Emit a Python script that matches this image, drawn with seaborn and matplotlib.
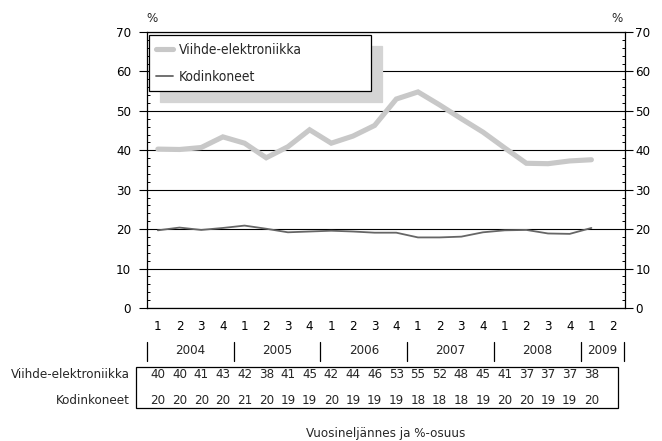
import matplotlib
matplotlib.use("Agg")
import matplotlib.pyplot as plt
import matplotlib.transforms as mtransforms
from matplotlib import font_manager
from matplotlib.patches import Rectangle
from matplotlib.lines import Line2D
from matplotlib.ticker import MultipleLocator, FixedLocator
import numpy as np
import pandas as pd
import seaborn as sns

# ---------------- data ----------------
quarters = ["1", "2", "3", "4"] * 5 + ["1", "2"]
years = ["2004", "2005", "2006", "2007", "2008", "2009"]
year_quarters = [4, 4, 4, 4, 4, 2]
viihde = [40.3, 40.2, 40.7, 43.4, 41.8, 38.1, 40.9, 45.2, 41.8, 43.6, 46.3,
          53.0, 54.8, 51.5, 48.0, 44.6, 40.6, 36.7, 36.6, 37.3, 37.6]
kodinkoneet = [19.7, 20.4, 19.8, 20.3, 20.9, 20.1, 19.2, 19.4, 19.6, 19.4, 19.1,
               19.1, 17.9, 17.9, 18.1, 19.2, 19.7, 19.8, 18.9, 18.8, 20.3]
table_viihde = [40, 40, 41, 43, 42, 38, 41, 45, 42, 44, 46, 53, 55, 52, 48, 45, 41, 37, 37, 37, 38]
table_kodin = [20, 20, 20, 20, 21, 20, 19, 19, 20, 19, 19, 19, 18, 18, 18, 19, 20, 20, 19, 19, 20]
series_names = ["Viihde-elektroniikka", "Kodinkoneet"]
x_title = "Vuosineljännes ja %-osuus"

# ---------------- style ----------------
sns.set_theme(style="white")
names = {f.name for f in font_manager.fontManager.ttflist}
stretch_ok = any(f.name == "DejaVu Sans" and str(f.stretch) in ("condensed", "semi-condensed")
                 for f in font_manager.fontManager.ttflist)
if "Liberation Sans Narrow" in names:
    plt.rcParams["font.family"] = ["Liberation Sans Narrow", "DejaVu Sans"]
else:
    plt.rcParams["font.family"] = ["DejaVu Sans"]
    if stretch_ok:
        plt.rcParams["font.stretch"] = "condensed"
FS = 9.5

fig = plt.figure(figsize=(6.62, 4.41), dpi=100)
W, H = 662, 441
ax_l, ax_r, ax_t, ax_b = 147, 625, 32, 308
ax = fig.add_axes([ax_l / W, 1 - ax_b / H, (ax_r - ax_l) / W, (ax_b - ax_t) / H])

n = len(viihde)
df = pd.DataFrame({"x": list(range(n)) * 2,
                   "value": viihde + kodinkoneet,
                   "series": [series_names[0]] * n + [series_names[1]] * n})

sns.lineplot(data=df[df.series == series_names[0]], x="x", y="value", ax=ax,
             color="#c8c8c8", linewidth=3.7, label=series_names[0], zorder=3,
             solid_joinstyle="miter")
sns.lineplot(data=df[df.series == series_names[1]], x="x", y="value", ax=ax,
             color="#666666", linewidth=1.3, label=series_names[1], zorder=4)

ax.set_xlim(-0.5, 21.55)
ax.set_ylim(0, 70)
ax.set_xlabel("")
ax.set_ylabel("")

minor_pos = [v for v in range(0, 71, 2) if v % 10 != 0]

# left y axis
ax.yaxis.set_major_locator(MultipleLocator(10))
ax.yaxis.set_minor_locator(FixedLocator(minor_pos))
ax.tick_params(axis="y", which="major", direction="out", length=5.5, width=0.8,
               color="black", labelsize=FS, labelcolor="black", left=True, right=False,
               labelleft=True, labelright=False, pad=6)
ax.tick_params(axis="y", which="minor", direction="in", length=2.5, width=0.7,
               color="black", left=True, right=False)

# right y axis (twin, same scale)
ax2 = ax.twinx()
ax2.set_ylim(ax.get_ylim())
ax2.yaxis.set_major_locator(MultipleLocator(10))
ax2.yaxis.set_minor_locator(FixedLocator(minor_pos))
ax2.tick_params(axis="y", which="major", direction="out", length=5.5, width=0.8,
                color="black", labelsize=FS, labelcolor="black", pad=2)
ax2.tick_params(axis="y", which="minor", direction="in", length=2.5, width=0.7,
                color="black")
ax2.grid(False)
for s in ax2.spines.values():
    s.set_visible(False)

ax.set_xticks(range(len(quarters)))
ax.set_xticklabels(quarters, fontsize=FS, color="black")
ax.tick_params(axis="x", length=0, pad=9)

ax.grid(axis="y", which="major", color="black", linewidth=0.8)
ax.set_axisbelow(True)
for s in ax.spines.values():
    s.set_visible(True)
    s.set_color("black")
    s.set_linewidth(0.9)

# % labels
fig.text(152 / W, 1 - 18 / H, "%", fontsize=FS, ha="center", va="center")
fig.text(617 / W, 1 - 18 / H, "%", fontsize=FS, ha="center", va="center")

# legend
leg = ax.legend(loc="upper left", bbox_to_anchor=(0.004, 0, 0.464, 0.989), mode="expand",
                fontsize=FS + 0.4, frameon=True, fancybox=False, framealpha=1,
                edgecolor="black", handlelength=1.2, handletextpad=0.4,
                labelspacing=0.95, borderpad=0.55, borderaxespad=0,
                shadow={"ox": 8, "oy": -8, "color": "#d4d4d4", "alpha": 1})
leg.get_frame().set_linewidth(0.9)
leg.remove()
ax2.add_artist(leg)
leg.set_zorder(10)

# year row
tr_year = mtransforms.blended_transform_factory(ax.transData, fig.transFigure)
start = -0.5
seps = [start]
for yr, nq in zip(years, year_quarters):
    center = start + nq / 2
    ax.text(center, 1 - 350 / H, yr, transform=tr_year, ha="center", va="center",
            fontsize=FS, clip_on=False)
    start += nq
    seps.append(start)
for sx in seps:
    fig.add_artist(Line2D([sx, sx], [1 - 342 / H, 1 - 361 / H], transform=tr_year,
                          color="black", linewidth=0.9))

# data table
fig.add_artist(Rectangle((136 / W, 1 - 408 / H), (618 - 136) / W, (408 - 367) / H,
                         transform=fig.transFigure, fill=False, edgecolor="black",
                         linewidth=0.9))
row_y = [1 - 375 / H, 1 - 400 / H]
for name, vals, yy in zip(series_names, [table_viihde, table_kodin], row_y):
    fig.text(130 / W, yy, name, ha="right", va="center", fontsize=FS)
    for i, v in enumerate(vals):
        ax.text(i, yy, str(v), transform=tr_year, ha="center", va="center",
                fontsize=FS, clip_on=False)

fig.text(386 / W, 1 - 433 / H, x_title, ha="center", va="center", fontsize=FS)

fig.savefig("out.png", dpi=100)
